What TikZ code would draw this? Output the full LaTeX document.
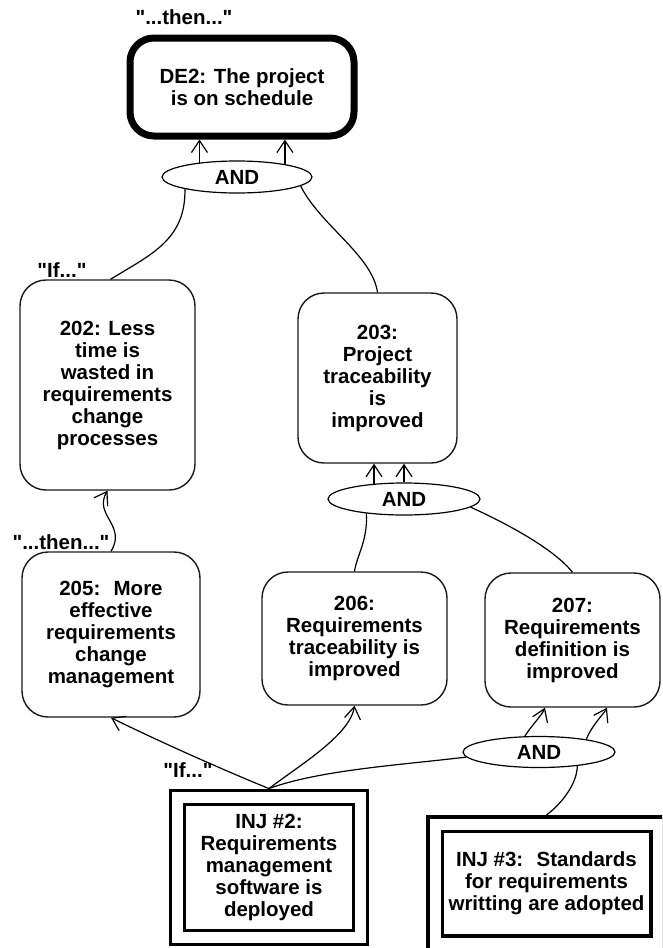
\documentclass[tikz,border=0pt]{standalone}
\usepackage{fontspec}
\setmainfont{Liberation Sans}
\usetikzlibrary{arrows.meta,shapes.geometric}
\newcommand{\qq}[1]{\textquotedbl#1\textquotedbl}
\begin{document}
\begin{tikzpicture}[x=1pt,y=-1pt,
  base/.style={font=\bfseries\fontsize{20.5}{22}\selectfont, align=center, inner sep=0pt, text=black},
  goal/.style={base, draw, line width=7pt, rounded corners=24pt},
  effect/.style={base, draw=black!90, line width=1.4pt, rounded corners=26pt},
  andnode/.style={base, draw, ellipse, line width=1.2pt},
  inj/.style={base, draw, line width=3.4pt, double=white, double distance=11pt, outer sep=9pt},
  cue/.style={font=\bfseries\fontsize{20.5}{22}\selectfont, inner sep=0pt},
  link/.style={line width=1.2pt},
  arr/.style={link, -{Straight Barb[length=12pt,width=16pt]}}]

\useasboundingbox (0,0) rectangle (662,948);
\clip (0,0) rectangle (662,948);
\fill[white] (0,0) rectangle (662,948);

% goal
\node[goal, minimum width=224pt, minimum height=98pt] (de2) at (242,87) {DE2: The project\\is on schedule};
\node[andnode, minimum width=150pt, minimum height=32pt] (and1) at (237,177) {AND};

% intermediate effects
\node[effect, minimum width=175pt, minimum height=210pt] (n202) at (107.5,385)
  {202: Less\\time is\\wasted in\\requirements\\change\\processes};
\node[effect, minimum width=159pt, minimum height=170pt] (n203) at (377.5,378)
  {203:\\Project\\traceability\\is\\improved};
\node[andnode, minimum width=152pt, minimum height=32pt] (and2) at (404,499) {AND};
\node[effect, minimum width=178pt, minimum height=165pt] (n205) at (111,634.5)
  {205:~ More\\effective\\requirements\\change\\management};
\node[effect, minimum width=185pt, minimum height=133pt] (n206) at (354.5,638.5)
  {206:\\Requirements\\traceability is\\improved};
\node[effect, minimum width=175pt, minimum height=134pt] (n207) at (572.5,640)
  {207:\\Requirements\\definition is\\improved};
\node[andnode, minimum width=152pt, minimum height=31pt] (and3) at (539,752) {AND};

% injections
\node[inj, minimum width=183pt, minimum height=140pt] (inj2) at (269,867.5)
  {INJ \#2:\\Requirements\\management\\software is\\deployed};
\node[inj, minimum width=223pt, minimum height=119pt] (inj3) at (546.5,883.5)
  {INJ \#3:~ Standards\\for requirements\\writting are adopted};

% reading cues
\node[cue] (cthen1) at (184,17) {\qq{...then...}};
\node[cue] (cif1) at (62,270) {\qq{If...}};
\node[cue] (cthen2) at (61,542) {\qq{...then...}};
\node[cue] (cif2) at (188,770) {\qq{If...}};

% connectors
\draw[arr] (and1.159) -- (and1.159 |- de2.south);
\draw[arr] (and1.15) -- (and1.15 |- de2.south);
\draw[link] (and1.193) .. controls (186,240) and (150,255) .. ([xshift=3pt]n202.north);
\draw[link] (and1.-8) .. controls (320,225) and (372,255) .. (n203.north);
\draw[arr] (n205.north) .. controls (127,525) and (93,515) .. (n202.south);
\draw[arr] (and2.153) -- (and2.153 |- n203.south);
\draw[arr] (and2.north) -- (and2.north |- n203.south);
\draw[link] (n206.north) .. controls (357,555) and (368,540) .. (and2.201);
\draw[link] (n207.north) .. controls (555,550) and (510,525) .. (and2.-7);
\draw[arr] (inj2.north) .. controls (235,775) and (160,742) .. (n205.south);
\draw[arr] (inj2.north) .. controls (300,765) and (350,735) .. (n206.south);
\draw[link] (inj2.north) .. controls (320,770) and (400,765) .. (and3.184);
\draw[arr] (and3.132) .. controls (532,725) and (542,715) .. ([xshift=-27.5pt]n207.south);
\draw[arr] (and3.15) .. controls (592,725) and (603,715) .. ([xshift=34.5pt]n207.south);
\draw[link] (inj3.north) .. controls (560,805) and (577,785) .. (and3.-20);
\end{tikzpicture}
\end{document}
